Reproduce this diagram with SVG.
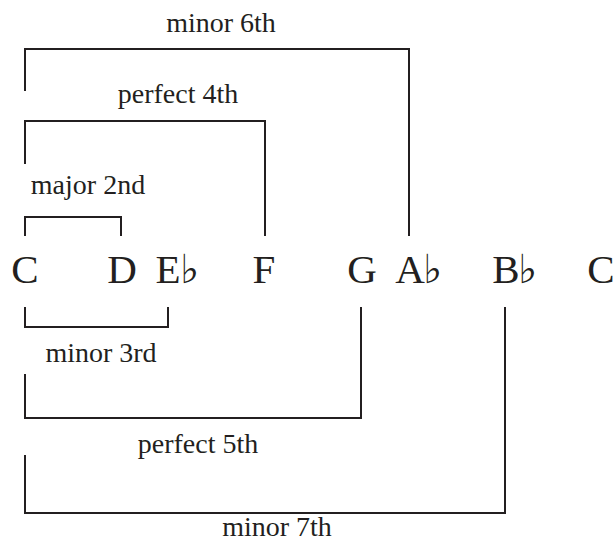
<svg xmlns="http://www.w3.org/2000/svg" width="616" height="545" viewBox="0 0 616 545">
<style>
.b{fill:none;stroke:#231f20;stroke-width:2}
.l{font-family:"Liberation Serif","Times New Roman",serif;font-size:28px;fill:#231f20;text-anchor:middle}
.n{font-family:"Liberation Serif","Times New Roman",serif;font-size:41px;fill:#231f20;text-anchor:middle}
.f{font-family:"DejaVu Serif","DejaVu Sans",serif;font-size:40px;fill:#231f20}
</style>
<rect width="616" height="545" fill="#fff"/>
<g id="connectors">
<path class="b" d="M25,91 V49 H409 V236"/>
<path class="b" d="M25,164 V121 H265 V236"/>
<path class="b" d="M25,236 V217 H121 V236"/>
<path class="b" d="M25,307 V327 H168 V307"/>
<path class="b" d="M25,374 V418 H361 V307"/>
<path class="b" d="M25,455 V513 H505 V307"/>
</g>
<g id="labels">
<text class="l" x="221" y="32">minor 6th</text>
<text class="l" x="178" y="103">perfect 4th</text>
<text class="l" x="88" y="194">major 2nd</text>
<text class="l" x="101" y="362">minor 3rd</text>
<text class="l" x="198" y="453">perfect 5th</text>
<text class="l" x="277" y="536">minor 7th</text>
</g>
<g id="note-C1"><text class="n" x="25" y="283">C</text></g>
<g id="note-D"><text class="n" x="122" y="283">D</text></g>
<g id="note-Eb"><text class="n" x="168" y="283">E</text><text class="f" x="180" y="283">♭</text></g>
<g id="note-F"><text class="n" x="264" y="283">F</text></g>
<g id="note-G"><text class="n" x="362" y="283">G</text></g>
<g id="note-Ab"><text class="n" x="410" y="283">A</text><text class="f" x="423" y="283">♭</text></g>
<g id="note-Bb"><text class="n" x="506" y="283">B</text><text class="f" x="518" y="283">♭</text></g>
<g id="note-C2"><text class="n" x="601" y="283">C</text></g>
</svg>
